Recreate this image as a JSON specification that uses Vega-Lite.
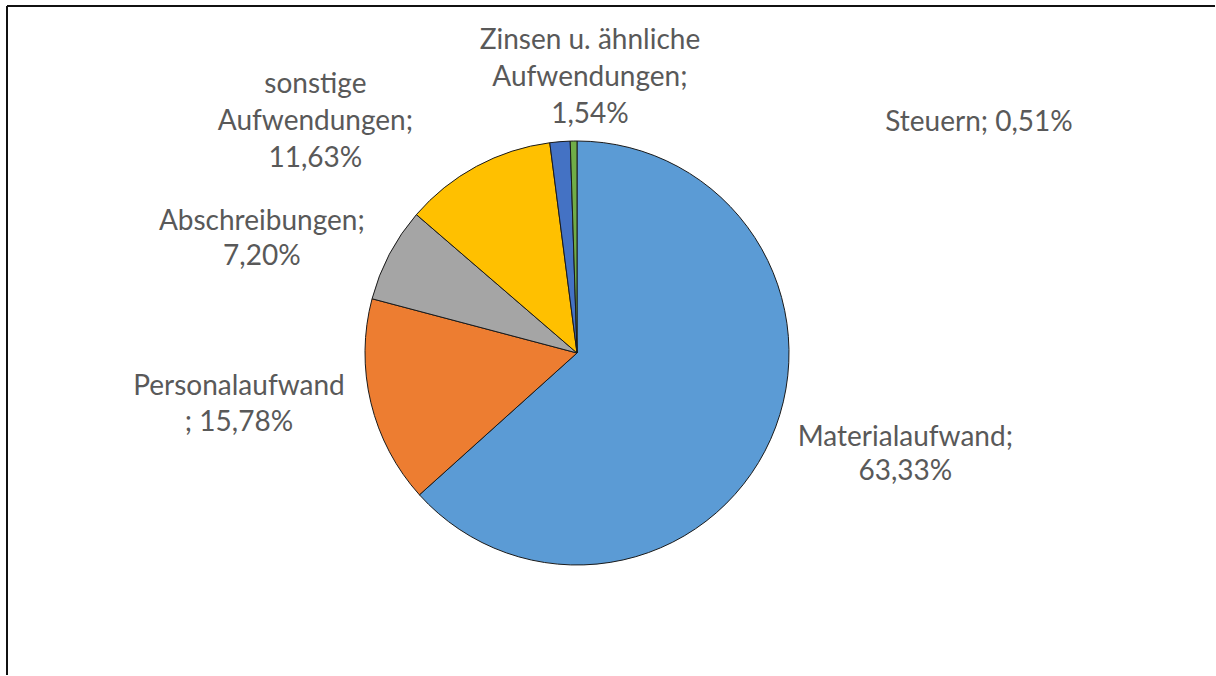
{
  "$schema": "https://vega.github.io/schema/vega-lite/v6.json",
  "autosize": {"type": "fit", "contains": "padding"},
  "width": 1216,
  "height": 676,
  "padding": {"left": 6, "top": 5, "right": 0, "bottom": 0},
  "background": "white",
  "config": {"view": {"stroke": null}},
  "data": {
    "values": [
      {"idx": 1, "kategorie": "Materialaufwand", "anteil": 63.33, "label": "Materialaufwand;\n63,33%"},
      {"idx": 2, "kategorie": "Personalaufwand", "anteil": 15.78, "label": "Personalaufwand\n; 15,78%"},
      {"idx": 3, "kategorie": "Abschreibungen", "anteil": 7.20, "label": "Abschreibungen;\n7,20%"},
      {"idx": 4, "kategorie": "sonstige Aufwendungen", "anteil": 11.63, "label": "sonstige\nAufwendungen;\n11,63%"},
      {"idx": 5, "kategorie": "Zinsen u. ähnliche Aufwendungen", "anteil": 1.54, "label": "Zinsen u. ähnliche\nAufwendungen;\n1,54%"},
      {"idx": 6, "kategorie": "Steuern", "anteil": 0.51, "label": "Steuern; 0,51%"}
    ]
  },
  "transform": [
    {"stack": "anteil", "groupby": [], "sort": [{"field": "idx"}], "as": ["v0", "v1"]},
    {"calculate": "(datum.v0 + datum.v1) / 2", "as": "mid"}
  ],
  "layer": [
    {
      "transform": [{"filter": "datum.idx == 1"}],
      "mark": {"type": "rule", "stroke": "#111111", "strokeWidth": 2},
      "encoding": {"x": {"value": 0}, "y": {"value": 0}, "y2": {"value": "height"}}
    },
    {
      "transform": [{"filter": "datum.idx == 1"}],
      "mark": {"type": "rule", "stroke": "#111111", "strokeWidth": 2},
      "encoding": {"x": {"value": 0}, "x2": {"value": "width"}, "y": {"value": 0}}
    },
    {
      "mark": {"type": "arc", "outerRadius": 212, "x": 570, "y": 347, "stroke": "#1a1a1a", "strokeWidth": 1},
      "encoding": {
        "theta": {"field": "v0", "type": "quantitative", "scale": {"domain": [0, 99.99]}},
        "theta2": {"field": "v1"},
        "color": {
          "field": "kategorie",
          "type": "nominal",
          "sort": ["Materialaufwand", "Personalaufwand", "Abschreibungen", "sonstige Aufwendungen", "Zinsen u. ähnliche Aufwendungen", "Steuern"],
          "scale": {
            "domain": ["Materialaufwand", "Personalaufwand", "Abschreibungen", "sonstige Aufwendungen", "Zinsen u. ähnliche Aufwendungen", "Steuern"],
            "range": ["#5B9BD5", "#ED7D31", "#A5A5A5", "#FFC000", "#4472C4", "#70AD47"]
          },
          "legend": null
        }
      }
    },
    {
      "transform": [{"filter": "datum.idx == 1"}],
      "mark": {"type": "text", "radius": 250, "x": 570, "y": 347, "dx": 100, "dy": -17, "font": "Lato", "fontSize": 28, "fill": "#595959", "align": "center", "baseline": "middle", "lineBreak": "\n", "lineHeight": 34},
      "encoding": {"theta": {"field": "mid", "type": "quantitative"}, "text": {"field": "label"}}
    },
    {
      "transform": [{"filter": "datum.idx == 2"}],
      "mark": {"type": "text", "radius": 250, "x": 570, "y": 347, "dx": -95, "dy": -25, "font": "Lato", "fontSize": 28, "fill": "#595959", "align": "center", "baseline": "middle", "lineBreak": "\n", "lineHeight": 36},
      "encoding": {"theta": {"field": "mid", "type": "quantitative"}, "text": {"field": "label"}}
    },
    {
      "transform": [{"filter": "datum.idx == 3"}],
      "mark": {"type": "text", "radius": 250, "x": 570, "y": 347, "dx": -94, "dy": -14, "font": "Lato", "fontSize": 28, "fill": "#595959", "align": "center", "baseline": "middle", "lineBreak": "\n", "lineHeight": 35},
      "encoding": {"theta": {"field": "mid", "type": "quantitative"}, "text": {"field": "label"}}
    },
    {
      "transform": [{"filter": "datum.idx == 4"}],
      "mark": {"type": "text", "radius": 250, "x": 570, "y": 347, "dx": -143, "dy": -48, "font": "Lato", "fontSize": 28, "fill": "#595959", "align": "center", "baseline": "middle", "lineBreak": "\n", "lineHeight": 37},
      "encoding": {"theta": {"field": "mid", "type": "quantitative"}, "text": {"field": "label"}}
    },
    {
      "transform": [{"filter": "datum.idx == 5"}],
      "mark": {"type": "text", "radius": 250, "x": 570, "y": 347, "dx": 33, "dy": -63, "font": "Lato", "fontSize": 28, "fill": "#595959", "align": "center", "baseline": "middle", "lineBreak": "\n", "lineHeight": 37},
      "encoding": {"theta": {"field": "mid", "type": "quantitative"}, "text": {"field": "label"}}
    },
    {
      "transform": [{"filter": "datum.idx == 6"}],
      "mark": {"type": "text", "radius": 250, "x": 570, "y": 347, "dx": 406, "dy": 20, "font": "Lato", "fontSize": 28, "fill": "#595959", "align": "center", "baseline": "middle", "lineBreak": "\n", "lineHeight": 35},
      "encoding": {"theta": {"field": "mid", "type": "quantitative"}, "text": {"field": "label"}}
    }
  ]
}
